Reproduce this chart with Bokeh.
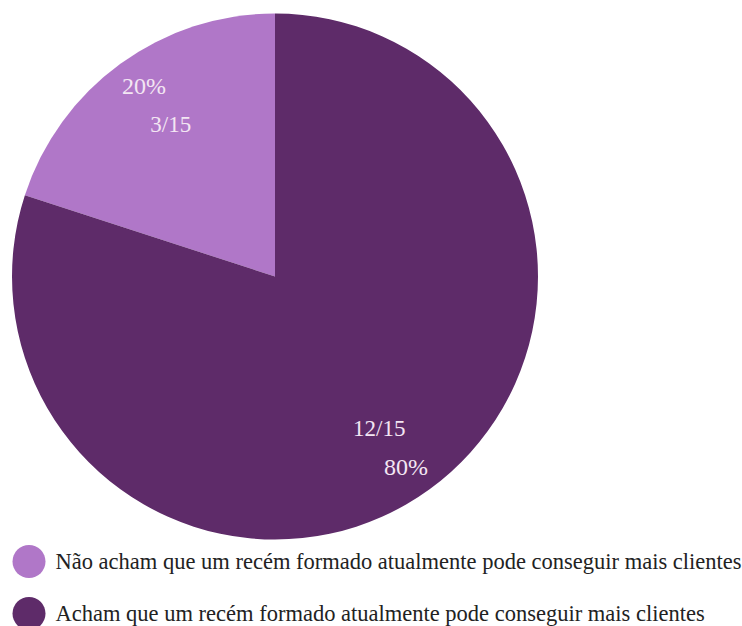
import numpy as np
from bokeh.plotting import figure
from bokeh.models import Range1d, ColumnDataSource
from bokeh.core.properties import value
from bokeh.embed import file_html
from bokeh.resources import INLINE

# ---- data ----
categories = ["Não acham que um recém formado atualmente pode conseguir mais clientes",
              "Acham que um recém formado atualmente pode conseguir mais clientes"]
counts = [3, 12]
total = 15
percent_labels = ["20%", "80%"]
fraction_labels = ["3/15", "12/15"]
colors = ["#b077c8", "#5e2b69"]

W, H = 742, 626
FONT = "Liberation Serif"

p = figure(width=W, height=H, output_backend="svg", toolbar_location=None,
           x_range=Range1d(0, W), y_range=Range1d(0, H), min_border=0)
p.axis.visible = False
p.grid.visible = False
p.outline_line_color = None
p.background_fill_color = "white"

# pie geometry (pixel coordinates, y measured up)
cx, cy, r = 274.5, H - 276, 263

vals = np.array(counts, dtype=float)
ang = vals / vals.sum() * 2 * np.pi
start = np.pi / 2 + np.concatenate([[0], np.cumsum(ang)[:-1]])
end = start + ang
mid = (start + end) / 2 - np.radians(1.5)

src = ColumnDataSource(dict(start=start, end=end, color=colors))
p.wedge(x=cx, y=cy, radius=r, start_angle="start", end_angle="end",
        fill_color="color", line_color=None, source=src)

# slice labels
pct_r = 0.88 * r
frac_r = 0.70 * r
lab = ColumnDataSource(dict(
    px=cx + pct_r * np.cos(mid), py=cy + pct_r * np.sin(mid), pt=percent_labels,
    fx=cx + frac_r * np.cos(mid), fy=cy + frac_r * np.sin(mid), ft=fraction_labels))
p.text(x="px", y="py", text="pt", source=lab, text_align="center",
       text_baseline="middle", text_font=value(FONT), text_font_size="24px",
       text_color="#f3e6f3")
p.text(x="fx", y="fy", text="ft", source=lab, text_align="center",
       text_baseline="middle", text_font=value(FONT), text_font_size="23px",
       text_color="#f3e6f3")

# legend
leg_y = [H - 561, H - 613]
leg = ColumnDataSource(dict(y=leg_y, color=colors, label=categories))
p.scatter(x=28.5, y="y", size=33, marker="circle", fill_color="color",
          line_color=None, source=leg)
p.text(x=55, y="y", text="label", source=leg, text_align="left",
       text_baseline="middle", text_font=value(FONT), text_font_size="22.5px",
       text_color="#222222")

open("out.html", "w").write(file_html(p, INLINE))
